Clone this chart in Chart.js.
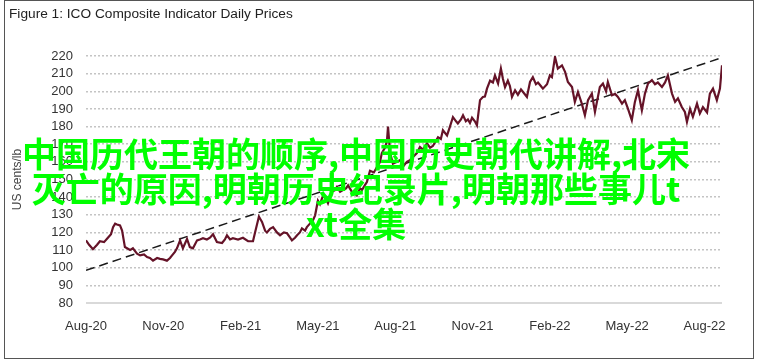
<!DOCTYPE html>
<html>
<head>
<meta charset="utf-8">
<script src="https://cdn.jsdelivr.net/npm/chart.js@4/dist/chart.umd.min.js"></script>
<style>
  html, body { margin: 0; padding: 0; background: #fff; }
  #wrap { position: relative; width: 757px; height: 364px; overflow: hidden; }
  #frame { position: absolute; left: 4px; top: 0px; width: 748px; height: 357px; border: 1.5px solid #555; }
  #title { position: absolute; left: 9px; top: 6px; font: 13.7px 'Liberation Sans', sans-serif; color: #222; white-space: nowrap; }
  #overlay { position: absolute; left: 0; top: 135px; width: 712px; text-align: center; font: bold 34px 'Noto Sans CJK SC', sans-serif; line-height: 35px; color: #00ff00; white-space: nowrap; }
  canvas { position: absolute; left: 0; top: 0; }
</style>
</head>
<body>
<div id="wrap">
  <canvas id="chart" width="757" height="364"></canvas>
  <div id="frame"></div>
  <div id="title">Figure 1: ICO Composite Indicator Daily Prices</div>
  <div id="overlay">中国历代王朝的顺序,中国历史朝代讲解,北宋<br>灭亡的原因,明朝历史纪录片,明朝那些事儿t<br>xt全集</div>
</div>
<script>
// x axis: months since Aug-2020
const tickLabels = ['Aug-20', 'Nov-20', 'Feb-21', 'May-21', 'Aug-21', 'Nov-21', 'Feb-22', 'May-22', 'Aug-22'];
const tickMonths = [0, 3, 6, 9, 12, 15, 18, 21, 24];

// ICO composite indicator, US cents/lb
const months = [
  0, 0.12, 0.27, 0.43, 0.54, 0.70, 0.85, 0.97, 1.05, 1.13, 1.20, 1.32, 1.40, 1.51, 1.71, 1.82, 1.98, 2.10,
  2.25, 2.37, 2.48, 2.60, 2.76, 2.87, 2.99, 3.14, 3.26, 3.34, 3.45, 3.53, 3.65, 3.76, 3.92, 4.03, 4.15, 4.31,
  4.42, 4.54, 4.69, 4.81, 4.93, 5.08, 5.28, 5.39, 5.47, 5.59, 5.70, 5.90, 6.09, 6.29, 6.48, 6.56, 6.71, 6.83,
  6.95, 7.02, 7.14, 7.26, 7.41, 7.53, 7.68, 7.80, 7.92, 7.99, 8.11, 8.19, 8.30, 8.38, 8.50, 8.57, 8.69, 8.81,
  8.89, 9.00, 9.08, 9.20, 9.31, 9.39, 9.54, 9.66, 9.74, 9.86, 9.97, 10.09, 10.17, 10.32, 10.44, 10.51, 10.63,
  10.71, 10.83, 10.90, 11.02, 11.17, 11.29, 11.41, 11.48, 11.60, 11.68, 11.72, 11.80, 11.91, 12.07, 12.18,
  12.34, 12.45, 12.57, 12.69, 12.84, 12.96, 13.08, 13.23, 13.35, 13.46, 13.58, 13.66, 13.77, 13.85, 14.01,
  14.12, 14.24, 14.36, 14.43, 14.55, 14.63, 14.74, 14.82, 14.90, 14.98, 15.09, 15.17, 15.29, 15.40, 15.48,
  15.56, 15.68, 15.79, 15.87, 15.99, 16.10, 16.18, 16.26, 16.37, 16.45, 16.53, 16.65, 16.76, 16.88, 16.96,
  17.11, 17.23, 17.34, 17.46, 17.54, 17.65, 17.73, 17.89, 18.00, 18.08, 18.20, 18.31, 18.47, 18.59, 18.70,
  18.86, 18.97, 19.09, 19.24, 19.36, 19.48, 19.63, 19.75, 19.94, 20.06, 20.18, 20.25, 20.41, 20.53, 20.64,
  20.80, 20.91, 21.03, 21.18, 21.30, 21.42, 21.57, 21.69, 21.81, 21.96, 22.08, 22.19, 22.35, 22.47, 22.58,
  22.74, 22.86, 22.97, 23.12, 23.24, 23.32, 23.44, 23.55, 23.71, 23.82, 23.94, 24.10, 24.21, 24.33, 24.48,
  24.60, 24.68
];
const prices = [
  115.5, 113, 110.5, 113, 115, 114.5, 117, 119, 123, 125, 124.5, 124, 121, 111.7, 110, 111, 108, 107,
  107.5, 106, 105.5, 104, 105.5, 105, 104.7, 104, 105.5, 107, 109, 111, 115.5, 111, 116.3, 111.7, 111, 115.5,
  116, 116.7, 116, 117, 119, 114.6, 114, 116, 118.4, 116, 116.7, 116, 117, 115, 115, 120, 129, 126,
  121, 120, 122, 123, 120, 118.4, 120, 119.5, 117, 115.5, 117, 118.4, 120, 122.3, 121, 123, 125, 127,
  129.7, 138, 136, 141, 139, 136.5, 143, 144, 145.8, 143, 144, 145, 146.7, 143, 142, 141, 145,
  144, 147, 148.6, 155, 154, 157, 160, 165, 168, 172, 180, 165, 159, 160, 161,
  158, 160, 161, 162.8, 165, 168.4, 167, 170.5, 168, 169, 172, 174, 173, 177.9, 175,
  179.8, 185.4, 183, 181.8, 184, 186.4, 183, 184, 182, 185, 183, 180.7, 195, 196.8, 197,
  201.5, 206, 205, 209, 204.4, 212.9, 207, 202.4, 206, 203, 196.8, 200.6, 198, 201, 199.6,
  196.8, 205.3, 208, 204, 205, 203, 201.5, 204, 209, 208, 219.5, 212.9, 214.7, 211, 205.3,
  202.4, 194, 199.6, 193, 186.4, 195, 198.7, 188.3, 202.4, 204.4, 200, 205.3, 197.7, 198.5, 196.8,
  193, 195, 190.2, 183.6, 194, 200.6, 189.2, 198.7, 204.4, 206.3, 204, 205, 202.4, 205, 209,
  198.7, 194, 196, 191.1, 188.3, 182.6, 190, 185.5, 193, 187.4, 191, 188, 198.7, 201.5, 195,
  201.5, 214.7
];

// linear trend (dashed)
const trendMonths = [0, 24.68];
const trendValues = [98.5, 219.1];

const yMin = 80, yMax = 220, yStep = 10;

const ctx = document.getElementById('chart');
new Chart(ctx, {
  type: 'line',
  data: {
    datasets: [
      {
        label: 'ICO Composite',
        data: months.map((m, i) => ({ x: m, y: prices[i] })),
        borderColor: '#651328',
        borderWidth: 2.2,
        pointRadius: 0,
        tension: 0
      },
      {
        label: 'Trend',
        data: trendMonths.map((m, i) => ({ x: m, y: trendValues[i] })),
        borderColor: '#1a1a1a',
        borderWidth: 1.5,
        borderDash: [9, 5],
        pointRadius: 0
      }
    ]
  },
  options: {
    responsive: false,
    animation: false,
    layout: { padding: { left: 0, top: 56, right: 35, bottom: 0 } },
    plugins: { legend: { display: false }, tooltip: { enabled: false } },
    scales: {
      x: {
        type: 'linear',
        min: 0,
        max: months[months.length - 1],
        afterBuildTicks: (scale) => { scale.ticks = tickMonths.map(v => ({ value: v })); },
        afterFit: (scale) => { scale.height = 61; },
        grid: { display: false },
        border: { display: false },
        ticks: {
          autoSkip: false,
          maxRotation: 0,
          padding: 8,
          color: '#333',
          font: { family: 'Liberation Sans', size: 13 },
          callback: (v) => tickLabels[tickMonths.indexOf(v)]
        }
      },
      y: {
        min: yMin,
        max: yMax,
        afterFit: (scale) => { scale.width = 86; },
        ticks: {
          stepSize: yStep,
          autoSkip: false,
          padding: 13,
          color: '#333',
          font: { family: 'Liberation Sans', size: 13 }
        },
        grid: {
          drawTicks: false,
          color: (c) => c.tick && c.tick.value === yMin ? '#d9d9d9' : '#c4c4c4',
          lineWidth: (c) => c.tick && c.tick.value === yMin ? 2 : 1.5
        },
        border: {
          display: false,
          dash: (c) => c.tick && c.tick.value === yMin ? [] : [2, 2]
        },
        title: {
          display: true,
          text: 'US cents/lb',
          color: '#444',
          font: { family: 'Liberation Sans', size: 12 },
          padding: { top: 10, bottom: 0 }
        }
      }
    }
  }
});
</script>
</body>
</html>
